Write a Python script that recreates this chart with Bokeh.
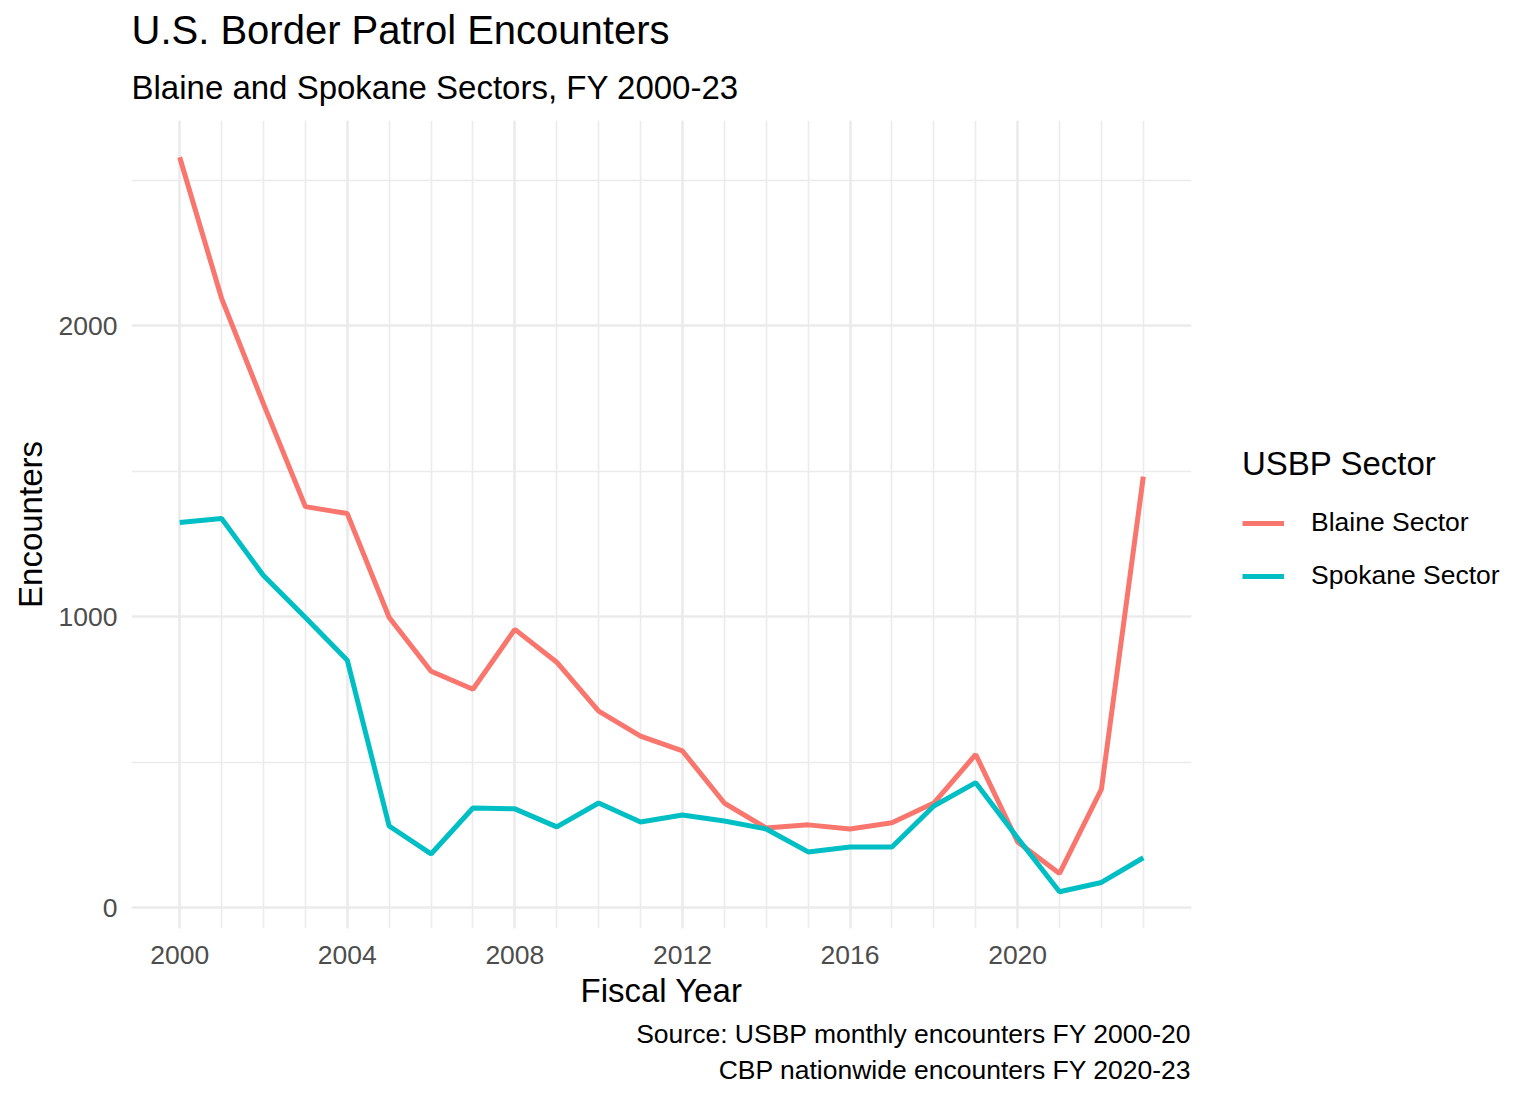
from bokeh.plotting import figure
from bokeh.models import (Range1d, FixedTicker, Legend, LegendItem, Title)
from bokeh.embed import file_html
from bokeh.resources import INLINE

# ---- data ----
years = list(range(2000, 2024))
blaine = [2580, 2095, 1732, 1379, 1355, 998, 813, 751, 957, 844, 676, 590,
          539, 360, 274, 285, 271, 292, 360, 527, 226, 118, 408, 1482]
spokane = [1324, 1338, 1142, 998, 851, 281, 185, 343, 340, 278, 360, 295,
           319, 298, 271, 192, 209, 209, 350, 430, 240, 55, 87, 172]
x_major = [2000, 2004, 2008, 2012, 2016, 2020]
x_minor = years
y_major = [0, 1000, 2000]
y_minor = [500, 1500, 2500]
series_names = ["Blaine Sector", "Spokane Sector"]
series_colors = ["#F8766D", "#00BFC4"]
caption_lines = ["Source: USBP monthly encounters FY 2000-20",
                 "CBP nationwide encounters FY 2020-23"]

FONT = "Liberation Sans"

xmin, xmax = min(years), max(years)
xpad = 0.05 * (xmax - xmin)
allv = blaine + spokane
ymin, ymax = min(allv), max(allv)
ypad = 0.05 * (ymax - ymin)

p = figure(frame_width=1060, frame_height=808,
           x_range=Range1d(xmin - xpad, xmax + xpad),
           y_range=Range1d(ymin - ypad, ymax + ypad),
           output_backend="svg", toolbar_location=None,
           min_border_left=131, min_border_right=330,
           min_border_top=120, min_border_bottom=162)
p.outline_line_color = None
p.background_fill_color = "white"
p.border_fill_color = "white"

# grids
p.xaxis.ticker = FixedTicker(ticks=x_major, minor_ticks=x_minor)
p.yaxis.ticker = FixedTicker(ticks=y_major, minor_ticks=y_minor)
for g in (p.xgrid, p.ygrid):
    g.grid_line_color = "#EBEBEB"
    g.grid_line_width = 2.6
    g.minor_grid_line_color = "#EBEBEB"
    g.minor_grid_line_width = 1.6

# axes
for ax in (p.xaxis, p.yaxis):
    ax.axis_line_color = None
    ax.major_tick_line_color = None
    ax.minor_tick_line_color = None
    ax.major_label_text_font = FONT
    ax.major_label_text_font_size = "26.5px"
    ax.major_label_text_color = "#4D4D4D"
    ax.axis_label_text_font = FONT
    ax.axis_label_text_font_size = "33px"
    ax.axis_label_text_font_style = "normal"
    ax.axis_label_text_color = "black"
p.xaxis.axis_label = "Fiscal Year"
p.yaxis.axis_label = "Encounters"
p.xaxis.major_label_standoff = 11
p.yaxis.major_label_standoff = 8
p.xaxis.axis_label_standoff = 5
p.yaxis.axis_label_standoff = 7

# lines
renderers = []
for vals, col in zip([blaine, spokane], series_colors):
    r = p.line(years, vals, line_color=col, line_width=5)
    renderers.append(r)

legend = Legend(items=[LegendItem(label=n, renderers=[r])
                       for n, r in zip(series_names, renderers)],
                location=(51, 337))
legend.title = "USBP Sector"
legend.title_text_font = FONT
legend.title_text_font_size = "33px"
legend.title_text_font_style = "normal"
legend.title_text_color = "black"
legend.title_standoff = 24
legend.label_text_font = FONT
legend.label_text_font_size = "26.5px"
legend.label_text_color = "black"
legend.glyph_width = 42
legend.glyph_height = 30
legend.label_standoff = 27
legend.spacing = 22
legend.padding = 0
legend.margin = 0
legend.border_line_color = None
legend.background_fill_alpha = 0
p.add_layout(legend, "right")

# titles (first added sits closest to the frame)
p.add_layout(Title(text="Blaine and Spokane Sectors, FY 2000-23",
                   text_font=FONT, text_font_size="33px",
                   text_font_style="normal", text_color="black",
                   align="left", standoff=30), "above")
p.add_layout(Title(text="U.S. Border Patrol Encounters",
                   text_font=FONT, text_font_size="40px",
                   text_font_style="normal", text_color="black",
                   align="left", standoff=0), "above")

# caption: two right-aligned lines (first added sits closest to the frame)
for i, line in enumerate(caption_lines):
    p.add_layout(Title(text=line,
                       text_font=FONT, text_font_size="26.5px",
                       text_font_style="normal", text_color="black",
                       text_line_height=0.9,
                       vertical_align="bottom" if i == 0 else "top",
                       align="right", standoff=11 if i == 0 else 0), "below")

open("out.html", "w").write(file_html(p, INLINE))
